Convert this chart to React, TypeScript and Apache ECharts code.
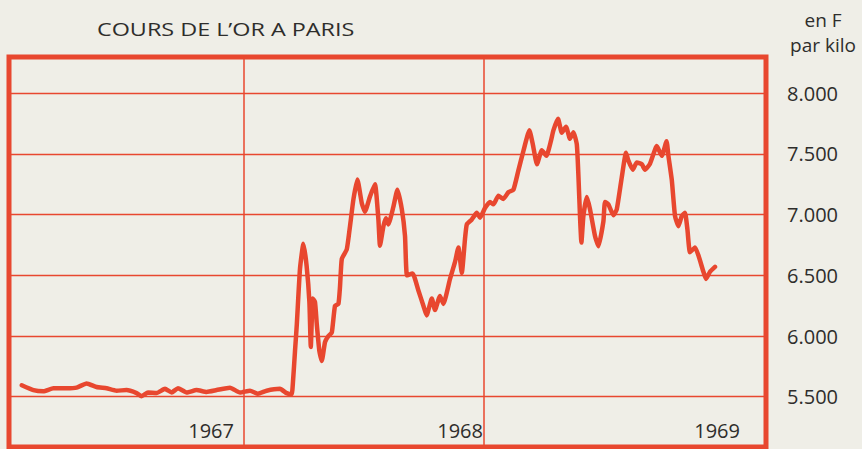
import React, { useEffect, useRef } from "react";
import * as echarts from "echarts";

const TITLE = "COURS DE L’OR A PARIS";
const UNIT_LINES = ["en F", "par kilo"];
const YEAR_LABELS = ["1967", "1968", "1969"];
// year boundaries, in months counted from January 1967
const YEAR_BOUNDARIES = [12, 24];
const Y_TICK_STEP = 500;

// months since January 1967
const months = [
  0.89, 1.47, 1.97, 2.47, 3.13, 3.63, 4.13, 4.63, 5.13, 5.63,
  6.13, 6.63, 6.88, 7.2, 7.63, 8.05, 8.38, 8.7, 9.13, 9.63,
  10.13, 10.63, 11.3, 11.8, 12.3, 12.7, 13.13, 13.8, 14.13, 14.38,
  14.45, 14.55, 14.64, 14.8, 14.97, 15.13, 15.27, 15.34, 15.44, 15.55,
  15.64, 15.77, 15.89, 16.05, 16.22, 16.39, 16.55, 16.72, 16.8, 16.89,
  17.14, 17.3, 17.47, 17.67, 17.89, 18.05, 18.3, 18.55, 18.72, 18.8,
  18.97, 19.1, 19.22, 19.47, 19.67, 19.89, 20.05, 20.15, 20.43, 20.72,
  20.97, 21.13, 21.39, 21.55, 21.8, 21.97, 22.3, 22.55, 22.72, 22.89,
  23.05, 23.14, 23.39, 23.64, 23.8, 24.05, 24.3, 24.47, 24.72, 24.97,
  25.22, 25.47, 25.72, 25.97, 26.27, 26.44, 26.65, 26.89, 27.12, 27.35,
  27.47, 27.7, 27.89, 28.1, 28.3, 28.47, 28.64, 28.72, 28.8, 28.87,
  28.97, 29.14, 29.3, 29.55, 29.72, 29.97, 30.05, 30.22, 30.47, 30.64,
  30.89, 31.1, 31.22, 31.44, 31.64, 31.89, 32.05, 32.3, 32.64, 32.89,
  33.13, 33.22, 33.39, 33.55, 33.72, 33.89, 34.05, 34.17, 34.3, 34.55,
  34.72, 34.97, 35.1, 35.3, 35.55,
];

// gold price in Paris, francs per kilo
const prices = [
  5595, 5555, 5545, 5570, 5570, 5575, 5610, 5580, 5570, 5550,
  5555, 5530, 5505, 5535, 5530, 5565, 5535, 5570, 5535, 5555,
  5540, 5555, 5575, 5535, 5550, 5525, 5550, 5565, 5530, 5520,
  5625, 5875, 6095, 6555, 6760, 6580, 6280, 5910, 6310, 6280,
  6095, 5875, 5795, 5950, 6000, 6030, 6250, 6265, 6405, 6635,
  6715, 6905, 7125, 7290, 7095, 7025, 7150, 7250, 6960, 6745,
  6905, 6970, 6920, 7065, 7205, 7045, 6825, 6500, 6515, 6375,
  6250, 6170, 6310, 6215, 6330, 6265, 6470, 6610, 6730, 6520,
  6800, 6920, 6960, 7015, 6975, 7055, 7105, 7085, 7155, 7130,
  7185, 7205, 7365, 7525, 7695, 7580, 7415, 7530, 7485, 7610,
  7695, 7790, 7675, 7725, 7625, 7680, 7580, 7325, 6990, 6770,
  6990, 7145, 7045, 6825, 6740, 6945, 7105, 7085, 6995, 7045,
  7310, 7510, 7445, 7370, 7430, 7415, 7370, 7420, 7565, 7485,
  7605, 7485, 7285, 6990, 6905, 6990, 7015, 6880, 6690, 6730,
  6665, 6530, 6470, 6530, 6570,
];

const RED = "#e8472f";
const INK = "#2e2d2b";
const FONT = "'Open Sans', Lato, sans-serif";

function formatFr(v: number): string {
  const th = Math.floor(v / 1000);
  const rest = String(Math.round(v % 1000)).padStart(3, "0");
  return `${th}.${rest}`;
}

export default function App() {
  const ref = useRef<HTMLDivElement>(null);

  useEffect(() => {
    if (!ref.current) return;
    const chart = echarts.init(ref.current, undefined, { renderer: "svg" });
    const data = months.map((m, i) => [m, prices[i]]);

    chart.setOption({
      animation: false,
      backgroundColor: "#efeee7",
      grid: {
        left: 9,
        right: 96,
        top: 57,
        bottom: 2,
        show: true,
        borderColor: RED,
        borderWidth: 5,
        backgroundColor: "transparent",
      },
      xAxis: {
        type: "value",
        min: 0.25,
        max: 38.1,
        show: false,
      },
      yAxis: {
        type: "value",
        position: "right",
        min: 5086,
        max: 8299,
        splitNumber: 5,
        axisLine: { show: false },
        axisTick: { show: false },
        axisLabel: {
          margin: 21,
          color: INK,
          fontFamily: FONT,
          fontSize: 20,
          formatter: (v: number) => (v % Y_TICK_STEP === 0 ? formatFr(v) : ""),
        },
        splitLine: { show: true, lineStyle: { color: RED, width: 1.3 } },
      },
      series: [
        {
          type: "line",
          data,
          showSymbol: false,
          smooth: 0.15,
          lineStyle: { color: RED, width: 4.5, cap: "round", join: "round" },
          z: 5,
          markLine: {
            silent: true,
            symbol: ["none", "none"],
            label: { show: false },
            lineStyle: { color: RED, width: 1.5, type: "solid" },
            data: YEAR_BOUNDARIES.map((x) => ({ xAxis: x })),
          },
        },
      ],
      graphic: [
        {
          type: "text",
          x: 97,
          y: 28,
          scaleX: 1.23,
          style: {
            text: TITLE,
            fill: INK,
            fontFamily: FONT,
            fontSize: 19,
            align: "left",
            verticalAlign: "middle",
          },
        },
        {
          type: "text",
          x: 823,
          y: 20,
          style: {
            text: UNIT_LINES[0],
            fill: INK,
            fontFamily: FONT,
            fontSize: 19,
            align: "center",
            verticalAlign: "middle",
          },
        },
        {
          type: "text",
          x: 823,
          y: 45,
          style: {
            text: UNIT_LINES[1],
            fill: INK,
            fontFamily: FONT,
            fontSize: 19,
            align: "center",
            verticalAlign: "middle",
          },
        },
        ...YEAR_LABELS.map((t, i) => ({
          type: "text",
          x: [234, 483, 740][i],
          y: 430,
          style: {
            text: t,
            fill: INK,
            fontFamily: FONT,
            fontSize: 20,
            align: "right",
            verticalAlign: "middle",
          },
        })),
      ],
    });

    return () => chart.dispose();
  }, []);

  return (
    <div
      ref={ref}
      style={{ position: "fixed", left: 0, top: 0, width: 862, height: 449 }}
    />
  );
}
